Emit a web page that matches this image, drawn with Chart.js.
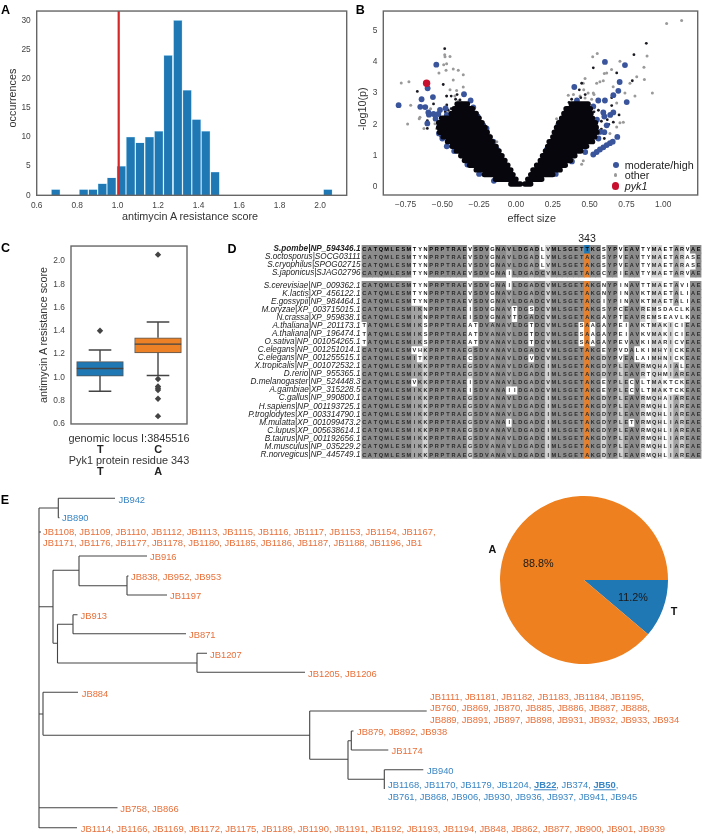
<!DOCTYPE html>
<html>
<head>
<meta charset="utf-8">
<title>Pyk1 antimycin A resistance</title>
<script src="https://cdn.jsdelivr.net/npm/chart.js@4"></script>
<style>
  html, body { margin: 0; background: #fff; }
  #page { position: relative; width: 709px; height: 835px; overflow: hidden; font-family: "Liberation Sans", Arial, sans-serif; }
  #page canvas { position: absolute; }
  .txt { position: absolute; white-space: nowrap; line-height: 1; }
  .txt b { text-decoration: underline; }
</style>
</head>
<body>
<div id="page"></div>
<script>
// Panel A: histogram
const binCenters = [0.694, 0.832, 0.878, 0.924, 0.97, 1.018, 1.064, 1.11, 1.157, 1.203, 1.249, 1.297, 1.343, 1.389, 1.435, 1.481, 2.038];
const binCounts = [1, 1, 1, 2, 3, 5, 10, 9, 10, 11, 24, 30, 18, 13, 11, 4, 1];
const wildtypeScore = 1.005;

// Panel B: volcano, [effect size, -log10(p)]
const moderatePoints = [[-.797,2.61],[-.541,3.9],[-.6,3.15],[-.564,2.87],[-.641,2.8],[-.616,2.55],[-.65,2.56],[-.595,2.38],[-.591,2.31],[-.546,2.18],[-.602,2.03],[-.516,2.46],[-.478,2.51],[-.353,2.96],[-.308,2.76],[-.523,1.71],[-.505,1.66],[-.56,2.33],[-.527,2.33],[-.29,2.54],[-.222,1.97],[-.2,1.87],[-.154,1.45],[-.12,1.04],[-.47,2.3],[-.5,1.55],[-.47,1.3],[-.42,1.15],[-.26,2.25],[-.25,2.05],[-.13,1.2],[-.09,.85],[-.05,.5],[-.33,.72],[-.25,.42],[-.15,.2],[-.52,1.95],
  [.604,3.99],[.74,3.89],[.704,3.35],[.396,3.19],[.695,3.07],[.661,2.93],[.752,2.71],[.414,2.76],[.559,2.76],[.604,2.76],[.525,2.57],[.593,2.38],[.661,2.38],[.688,1.6],[.616,1.97],[.57,1.76],[.288,2.0],[.254,1.45],[.435,1.25],[.525,1.04],[.548,1.12],[.57,1.2],[.593,1.27],[.616,1.34],[.638,1.4],[.657,1.45],[.6,2.25],[.64,2.3],[.55,2.15],[.56,1.55],[.33,1.9],[.19,.95],[.15,.6],[.27,.42],[.38,.82],[.47,1.12],[.6,1.75],[.21,1.2],[.31,2.15]];
const otherPoints = [[-.779,3.32],[-.727,3.36],[-.736,2.01],[-.715,2.61],[-.652,2.23],[-.657,2.18],[-.625,1.87],[-.58,2.5],[-.484,4.22],[-.482,4.15],[-.448,4.16],[-.491,3.9],[-.471,3.93],[-.523,3.64],[-.475,3.72],[-.426,3.76],[-.392,3.72],[-.358,3.58],[-.426,3.41],[-.358,3.19],[-.403,3.08],[-.448,3.1],[-.471,2.9],[-.415,2.9],[-.39,2.75],[-.37,2.7],[-.55,2.02],[-.539,1.87],[-.471,1.35],[-.358,.84],[-.26,.42],[-.177,1.66],[-.13,1.45],[-.1,.95],
  [1.023,5.21],[1.125,5.31],[.89,4.18],[.552,4.26],[.521,4.15],[.869,3.82],[.872,3.43],[.926,3.0],[.706,4.01],[.649,3.75],[.6,3.62],[.616,3.64],[.82,3.52],[.774,3.31],[.808,2.9],[.74,3.0],[.66,3.2],[.593,3.39],[.57,3.36],[.548,3.31],[.469,3.46],[.457,3.31],[.49,3.0],[.525,3.0],[.435,2.9],[.39,2.95],[.355,2.93],[.469,2.84],[.514,2.8],[.684,2.68],[.729,2.07],[.706,2.05],[.684,1.92],[.638,1.71],[.276,2.18],[.457,.84],[.446,.73],[.53,2.95],[.46,3.1]];
const lowImpactPoints = [[-.484,4.41],[-.494,3.27],[-.67,3.05],[-.602,1.87],[-.602,2.12],[-.471,2.9],[-.56,2.65],[-.44,2.9],[-.4,2.95],[-.5,2.2],[-.48,2.4],[-.44,2.5],[-.41,2.8],[-.47,2.62],[-.46,2.45],[-.38,2.78],
  [.885,4.58],[.801,4.22],[.525,3.8],[.684,3.64],[.79,3.39],[.446,3.31],[.378,2.8],[.65,2.85],[.661,2.07],[.56,2.45],[.58,2.1],[.62,2.15],[.53,2.4],[.47,2.95],[.43,3.1],[.55,1.95],[.6,1.55],[.58,1.85],[.44,2.85],[.36,2.7],[.65,2.6],[.7,2.3],[.63,2.0]];
// dense black body of the V, one row per p level: [-log10(p), left outer, left inner, right inner, right outer]
const coreBands = [[.1,-.035,.03,.06,.1],[.25,-.14,0,.08,.175],[.4,-.215,-.02,.1,.25],[.55,-.27,-.035,.115,.3],[.7,-.315,-.055,.14,.335],[.85,-.35,-.075,.165,.37],[1,-.375,-.095,.18,.4],[1.15,-.405,-.115,.2,.44],[1.3,-.435,-.135,.215,.48],[1.45,-.465,-.16,.225,.52],[1.6,-.495,-.175,.25,.535],[1.75,-.52,-.195,.26,.55],[1.9,-.525,-.21,.275,.545],[2.05,-.525,-.23,.29,.54],[2.2,-.505,-.25,.31,.52],[2.35,-.44,-.27,.325,.51],[2.5,-.42,-.295,.34,.505],[2.65,-.4,-.33,.375,.49]];
const pyk1Point = [[-.607,3.31]];

// Panel C: box plots, one entry per allele
const alleleT = { q1: 1.01, median: 1.075, q3: 1.135, low: 0.88, high: 1.235, fliers: [1.4] };
const alleleC = { q1: 1.21, median: 1.285, q3: 1.34, low: 1.015, high: 1.475, fliers: [2.055, 0.985, 0.92, 0.905, 0.89, 0.815, 0.665] };

// Panel D: alignment
const seqNames = ['S.pombe|NP_594346.1','S.octosporus|SOCG03111','S.cryophilus|SPOG02715','S.japonicus|SJAG02796','S.cerevisiae|NP_009362.1','K.lactis|XP_456122.1','E.gossypii|NP_984464.1','M.oryzae|XP_003715015.1','N.crassa|XP_959838.1','A.thaliana|NP_201173.1','A.thaliana|NP_196474.1','O.sativa|NP_001054265.1','C.elegans|NP_001251014.1','C.elegans|NP_001255515.1','X.tropicalis|NP_001072532.1','D.rerio|NP_955365.1','D.melanogaster|NP_524448.3','A.gambiae|XP_315228.5','C.gallus|NP_990800.1','H.sapiens|NP_001193725.1','P.troglodytes|XP_003314790.1','M.mulatta|XP_001099473.2','C.lupus|XP_005638614.1','B.taurus|NP_001192656.1','M.musculus|NP_035229.2','R.norvegicus|NP_445749.1'];
const seqs = [
  'CATQMLESMTYNPRPTRAEVSDVGNAVLDGADLVMLSGETTKGSYPVEAVTYMAETARVAE',
  'CATQMLESMTYNPRPTRAEVSDVGNAVLDGADLVMLSGETAKGSYPVEAVTYMAETARASE',
  'CATQMLESMTYNPRPTRAEVSDVGNAVLDGADLVMLSGETAKGSYPVEAVTYMAETARASE',
  'CATQMLESMTYNPRPTRAEVSDVGNAILDGADCVMLSGETAKGCYPIEAVTYMAETARVAE',
  'CATQMLESMTYNPRPTRAEVSDVGNAILDGADCVMLSGETAKGNYPINAVTTMAETAVIAE',
  'CATQMLESMTYNPRPTRAEVSDVGNAVLDGADCVMLSGETAKGNYPINAVKTMAETALIAE',
  'CATQMLESMTYNPRPTRAEVSDVGNAVLDGADCVMLSGETAKGIYPINAVKTMAETALIAE',
  'CATQMLESMIKNPRPTRAEISDVGNAVTDGSDCVMLSGETAKGSYPCEAVREMSDACLKAE',
  'CATQMLESMIKNPRPTRAEISDVGNAVTDGADCVMLSGETAKGAYPTEAVREMSEAVLKAE',
  'TATQMLESMIKSPRPTRAEATDVANAVLDGTDCVMLSGESAAGAYPEIAVKTMAKICIEAE',
  'TATQMLESMIKSPRPTRAEATDVANAVLDGTDCVMLSGESAAGAYPEIAVKVMAKICIEAE',
  'TATQMLESMIKSPRPTRAEATDVANAVLDGTDCVMLSGESAAGAYPEVAVKIMARICVEAE',
  'CATQMLESMVHKPRPTRAEGSDVANAVLDGADCVMLSGETAKGEYPVDALKIMHYICKEAE',
  'CATQMLESMITKPRPTRAECSDVANAVLDGVDCVMLSGETAKGDYPVEALAIMHNICKEAE',
  'CATQMLESMIKKPRPTRAEGSDVANAVLDGADCIMLSGETAKGDYPLEAVRMQHAIALEAE',
  'CATQMLESMIKKPRPTRAEGSDVANAVLDGADCIMLSGETAKGDYPLEAVRTQHMIAREAE',
  'CATQMLESMVKKPRPTRAEISDVANAVLDGADCVMLSGETAKGEYPLECVLTMAKTCKEAE',
  'CATQMLESMIKKPRPTRAEISDVANAIIDGADCVMLSGETAKGEYPLECVLTMAKTCKEAE',
  'CATQMLESMIKKPRPTRAEGSDVANAVLDGADCIMLSGETAKGDYPLEAVRMQHAIAREAE',
  'CATQMLESMIKKPRPTRAEGSDVANAVLDGADCIMLSGETAKGDYPLEAVRMQHLIAREAE',
  'CATQMLESMIKKPRPTRAEGSDVANAVLDGADCIMLSGETAKGDYPLEAVRMQHLIAREAE',
  'CATQMLESMIKKPRPTRAEGSDVANAILDGADCIMLSGETAKGDYPLETVRMQHLIAREAE',
  'CATQMLESMIKKPRPTRAEGSDVANAVLDGADCIMLSGETAKGDYPLEAVRMQHLIAREAE',
  'CATQMLESMIKKPRPTRAEGSDVANAVLDGADCIMLSGETAKGDYPLEAVRMQHLIAREAE',
  'CATQMLESMIKKPRPTRAEGSDVANAVLDGADCIMLSGETAKGDYPLEAVRMQHLIAREAE',
  'CATQMLESMIKKPRPTRAEGSDVANAVLDGADCIMLSGETAKGDYPLEAVRMQHLIAREAE'
];
const rowPositions = [0, 1, 2, 3, 4.5, 5.5, 6.5, 7.5, 8.5, 9.5, 10.5, 11.5, 12.5, 13.5, 14.5, 15.5, 16.5, 17.5, 18.5, 19.5, 20.5, 21.5, 22.5, 23.5, 24.5, 25.5];
const residueColumn = 40;

// Panel E: pie and tree
const pieLabels = ['T', 'A'];
const pieValues = [11.2, 88.8];
const treeBranches = [
  [39,508,39,828],[39,508,58.3,508],[58.3,498.3,58.3,517.7],[58.3,498.3,115,498.3],[58.3,517.7,59.5,517.7],
  [39,532,41,532],[39,606.7,53,606.7],[53,570.3,53,643.3],[53,570.3,79,570.3],[79,556,79,585.7],[79,556,147,556],
  [79,585.7,127,585.7],[127,576,127,595],[127,576,128.5,576],[127,595,167,595],
  [53,643.3,57.5,643.3],[57.5,624.3,57.5,663],[57.5,624.3,73,624.3],[73,614.7,73,633.7],[73,614.7,77.5,614.7],[73,633.7,186,633.7],
  [57.5,663,197,663],[197,653.3,197,672.3],[197,653.3,207,653.3],[197,672.3,305,672.3],
  [39,714,43,714],[43,692.3,43,735.3],[43,692.3,78,692.3],[43,735.3,309.7,735.3],[309.7,711,309.7,759.3],[309.7,711,426.7,711],
  [309.7,759.3,348,759.3],[348,740.7,348,779.3],[348,740.7,351.3,740.7],[351.3,731,351.3,750],[351.3,731,353.5,731],[351.3,750,388.3,750],
  [348,779.3,384.3,779.3],[384.3,769.7,384.3,789],[384.3,769.7,423.3,769.7],
  [39,807.7,117.5,807.7],[39,827.7,77,827.7]
];
const orangeLeaves = [
  [43,532,'JB1108, JB1109, JB1110, JB1112, JB1113, JB1115, JB1116, JB1117, JB1153, JB1154, JB1167,'],
  [43,543.3,'JB1171, JB1176, JB1177, JB1178, JB1180, JB1185, JB1186, JB1187, JB1188, JB1196, JB1'],
  [150,557.3,'JB916'],[131,577.3,'JB838, JB952, JB953'],[170,596,'JB1197'],[80.5,615.7,'JB913'],[189,635,'JB871'],
  [210,654.7,'JB1207'],[308,674,'JB1205, JB1206'],[81.7,693.7,'JB884'],
  [430,696.7,'JB1111, JB1181, JB1182, JB1183, JB1184, JB1195,'],[430,708,'JB760, JB869, JB870, JB885, JB886, JB887, JB888,'],
  [430,719.7,'JB889, JB891, JB897, JB898, JB931, JB932, JB933, JB934'],
  [357,732,'JB879, JB892, JB938'],[391.5,751,'JB1174'],[120.3,808.7,'JB758, JB866'],
  [80.7,828.5,'JB1114, JB1166, JB1169, JB1172, JB1175, JB1189, JB1190, JB1191, JB1192, JB1193, JB1194, JB848, JB862, JB877, JB900, JB901, JB939']
];
const blueLeaves = [
  [118.5,499.7,'JB942'],[62,518,'JB890'],[427,771,'JB940'],
  [388,785.3,'JB1168, JB1170, JB1179, JB1204, <b>JB22</b>, JB374, <b>JB50</b>,'],
  [388,797,'JB761, JB868, JB906, JB930, JB936, JB937, JB941, JB945']
];

const page = document.getElementById('page');
const INK = '#333';
const FRAME = '#666';
const tickFont = { family: '"Liberation Sans"', size: 8.4 };

function addText(x, y, html, style) {
  const d = document.createElement('div');
  d.className = 'txt';
  d.innerHTML = html;
  d.style.left = x + 'px';
  d.style.top = y + 'px';
  d.style.transform = 'translate(-50%,-50%)' + (style && style.rotate ? ' rotate(-90deg)' : '');
  d.style.fontSize = ((style && style.size) || 10.8) + 'px';
  d.style.color = (style && style.color) || INK;
  if (style && style.bold) d.style.fontWeight = 'bold';
  if (style && style.italic) d.style.fontStyle = 'italic';
  page.appendChild(d);
  return d;
}

function addLeaf(x, y, html, color) {
  const d = addText(x, y, html, { size: 9.4, color: color });
  d.style.transform = 'translateY(-50%)';
}

function addCanvas(x, y, w, h) {
  const c = document.createElement('canvas');
  c.width = w;
  c.height = h;
  c.style.left = x + 'px';
  c.style.top = y + 'px';
  c.style.width = w + 'px';
  c.style.height = h + 'px';
  page.appendChild(c);
  return c;
}

const framePlugin = {
  id: 'frame',
  afterDatasetsDraw(chart) {
    const a = chart.chartArea, ctx = chart.ctx;
    ctx.save();
    ctx.strokeStyle = FRAME;
    ctx.lineWidth = 1.4;
    ctx.strokeRect(a.left, a.top, a.right - a.left, a.bottom - a.top);
    ctx.restore();
  }
};

// fixed margins so the plot area lands where the reference has it
function fixedWidth(w) { return s => { s.width = w; }; }
function fixedHeight(h) { return s => { s.height = h; }; }

function baseOptions(padding) {
  return {
    responsive: false,
    animation: false,
    layout: { padding: padding },
    plugins: { legend: { display: false }, tooltip: { enabled: false } }
  };
}

function valueAxis(min, max, step, padding, afterFit, format) {
  const ticks = { stepSize: step, includeBounds: false, font: tickFont, color: '#444', padding: padding, maxRotation: 0, autoSkip: false };
  if (format) ticks.callback = format;
  return {
    type: 'linear', min: min, max: max, offset: false, afterFit: afterFit,
    grid: { display: false, drawTicks: false }, border: { display: false },
    ticks: ticks
  };
}

// --- A ---
new Chart(addCanvas(0, 0, 352, 212), {
  data: {
    datasets: [
      { type: 'line', data: [{ x: wildtypeScore, y: 0 }, { x: wildtypeScore, y: 31.6 }], borderColor: '#d62728', borderWidth: 2.2, pointRadius: 0, order: 0 },
      { type: 'bar', data: binCenters.map((b, i) => ({ x: b, y: binCounts[i] })), backgroundColor: '#1f77b4', borderColor: '#b5def5', borderWidth: 0.6, barThickness: 8.6, order: 1 }
    ]
  },
  options: Object.assign(baseOptions({ top: 9, right: 5.3, left: 0, bottom: 0 }), {
    scales: {
      x: valueAxis(0.6, 2.131, 0.2, 5, fixedHeight(212 - 195.3), v => v.toFixed(1)),
      y: valueAxis(0, 31.6, 5, 6, fixedWidth(36.7))
    }
  }),
  plugins: [framePlugin]
});
addText(12, 98, 'occurrences', { rotate: true });
addText(190, 216.3, 'antimycin A resistance score');

// --- B ---
const toXY = p => ({ x: p[0], y: p[1] });
const leftArm = [], rightArm = [];
coreBands.forEach(b => {
  leftArm.push({ x: b[1], y: b[0] }, { x: b[2], y: b[0] }, { x: b[2], y: null });
  rightArm.push({ x: b[3], y: b[0] }, { x: b[4], y: b[0] }, { x: b[4], y: null });
});
const bandStyle = { showLine: true, spanGaps: false, borderColor: '#06060c', borderWidth: 5.4, borderCapStyle: 'round', pointRadius: 0, order: 1 };
new Chart(addCanvas(340, 0, 369, 210), {
  type: 'scatter',
  data: {
    datasets: [
      { data: pyk1Point.map(toXY), backgroundColor: '#c8102e', pointRadius: 3.7, pointBorderWidth: 0, order: 0 },
      Object.assign({ data: leftArm }, bandStyle),
      Object.assign({ data: rightArm }, bandStyle),
      { data: moderatePoints.map(toXY), backgroundColor: '#3a559c', pointRadius: 2.9, pointBorderWidth: 0, order: 2 },
      { data: lowImpactPoints.map(toXY), backgroundColor: '#1a1a22', pointRadius: 1.4, pointBorderWidth: 0, order: 3 },
      { data: otherPoints.map(toXY), backgroundColor: '#9a9a9a', pointRadius: 1.5, pointBorderWidth: 0, order: 4 }
    ]
  },
  options: Object.assign(baseOptions({ top: 5.7, right: 11.3, left: 0, bottom: 0 }), {
    scales: {
      x: valueAxis(-0.901, 1.234, 0.25, 5, fixedHeight(15), v => v.toFixed(2).replace('-', '\u2212')),
      y: valueAxis(-0.25, 5.61, 1, 6, fixedWidth(43.3))
    }
  }),
  plugins: [framePlugin]
});
addText(361.7, 109, '-log10(p)', { rotate: true });
addText(531.7, 217.7, 'effect size');

// legend of B sits inside the plot, as in the reference
[['#3a559c', 3, 'moderate/high', 164.7, false], ['#9a9a9a', 1.8, 'other', 175.2, false], ['#c8102e', 3.6, 'pyk1', 186, true]].forEach(l => {
  const dot = document.createElement('div');
  dot.style.cssText = `position:absolute;left:${615.7 - l[1]}px;top:${l[3] - l[1]}px;width:${2 * l[1]}px;height:${2 * l[1]}px;border-radius:50%;background:${l[0]}`;
  page.appendChild(dot);
  const t = addText(624.7, l[3], l[2], { size: 10.8, italic: l[4], color: '#222' });
  t.style.transform = 'translateY(-50%)';
});

// --- C ---
const alleles = [alleleT, alleleC];
const whiskerPoints = [], medianPoints = [], capPoints = [], flierPoints = [];
alleles.forEach((a, i) => {
  whiskerPoints.push({ x: i, y: a.low }, { x: i, y: a.q1 }, { x: i, y: null }, { x: i, y: a.q3 }, { x: i, y: a.high }, { x: i, y: null });
  capPoints.push({ x: i - 0.195, y: a.low }, { x: i + 0.195, y: a.low }, { x: i, y: null }, { x: i - 0.195, y: a.high }, { x: i + 0.195, y: a.high }, { x: i, y: null });
  medianPoints.push({ x: i - 0.4, y: a.median }, { x: i + 0.4, y: a.median }, { x: i, y: null });
  a.fliers.forEach(f => flierPoints.push({ x: i, y: f }));
});
const lineStyle = { type: 'line', borderColor: '#444', borderWidth: 1.4, pointRadius: 0, spanGaps: false };
new Chart(addCanvas(0, 235, 192, 200), {
  data: {
    datasets: [
      Object.assign({ data: medianPoints, order: 0 }, lineStyle),
      Object.assign({ data: whiskerPoints, order: 1 }, lineStyle),
      Object.assign({ data: capPoints, order: 1 }, lineStyle),
      { type: 'scatter', data: flierPoints, pointStyle: 'rectRot', pointRadius: 3.2, backgroundColor: '#444', pointBorderWidth: 0, order: 1 },
      { type: 'bar', data: alleles.map((a, i) => ({ x: i, y: [a.q1, a.q3] })), backgroundColor: ['#1f77b4', '#ec8125'], borderColor: '#555', borderWidth: 1, borderSkipped: false, barThickness: 46.7, order: 2 }
    ]
  },
  options: Object.assign(baseOptions({ top: 8.3, right: 5, left: 0, bottom: 0 }), {
    scales: {
      x: { type: 'linear', min: -0.5, max: 1.5, offset: false, grid: { display: false, drawTicks: false }, border: { display: false }, ticks: { display: false }, afterFit: fixedHeight(5.7) },
      y: valueAxis(0.598, 2.129, 0.2, 6, fixedWidth(71), v => v.toFixed(1))
    }
  }),
  plugins: [framePlugin]
});
addText(43.3, 335, 'antimycin A resistance score', { rotate: true });
addText(129, 437.5, 'genomic locus I:3845516', { size: 10.9 });
addText(100.3, 448.5, 'T', { size: 10.9, bold: true, color: '#222' });
addText(158.3, 448.5, 'C', { size: 10.9, bold: true, color: '#222' });
addText(129, 459.5, 'Pyk1 protein residue 343', { size: 10.9 });
addText(100.3, 471, 'T', { size: 10.9, bold: true, color: '#222' });
addText(158.3, 471, 'A', { size: 10.9, bold: true, color: '#222' });

// --- D ---
function cellColor(row, col) {
  if (col === residueColumn) return row === 0 ? '#1f77b4' : '#e8802a';
  const letter = seqs[row][col];
  const share = seqs.filter(s => s[col] === letter).length / seqs.length;
  if (share > 0.85) return '#8c8c8c';
  if (share > 0.65) return '#a3a3a3';
  if (share > 0.38) return '#d2d2d2';
  return '#ffffff';
}
const columnLabels = seqs[0].split('').map((_, i) => i + 1);
const letterPlugin = {
  id: 'letters',
  afterDatasetsDraw(chart) {
    const ctx = chart.ctx, xs = chart.scales.x, ys = chart.scales.y;
    ctx.save();
    ctx.textAlign = 'center';
    ctx.textBaseline = 'middle';
    seqs.forEach((s, r) => {
      ctx.font = 'bold 5.6px "Liberation Sans"';
      ctx.fillStyle = r === 0 ? '#000' : '#2a2a2a';
      s.split('').forEach((ch, c) => ctx.fillText(ch, xs.getPixelForValue(c), ys.getPixelForValue(rowPositions[r]) + 0.3));
    });
    ctx.restore();
  }
};
new Chart(addCanvas(200, 235, 509, 230), {
  type: 'bar',
  data: {
    labels: columnLabels,
    datasets: seqs.map((s, r) => ({
      data: columnLabels.map(() => [rowPositions[r] - 0.5, rowPositions[r] + 0.5]),
      backgroundColor: columnLabels.map((_, c) => cellColor(r, c)),
      grouped: false, barPercentage: 1, categoryPercentage: 1, borderWidth: 0
    }))
  },
  options: Object.assign(baseOptions({ top: 10, right: 7.5, left: 0, bottom: 6.3 }), {
    scales: {
      x: { display: false },
      y: {
        type: 'linear', reverse: true, min: -0.5, max: 26,
        grid: { display: false, drawTicks: false }, border: { display: false },
        afterFit: fixedWidth(161.5),
        afterBuildTicks: s => { s.ticks = rowPositions.map(v => ({ value: v })); },
        ticks: {
          autoSkip: false, padding: 1, color: '#222',
          font: ctx => ({ family: '"Liberation Sans"', size: 8.2, style: 'italic', weight: ctx.index === 0 ? 'bold' : 'normal' }),
          callback: (v, i) => seqNames[i]
        }
      }
    }
  }),
  plugins: [letterPlugin]
});
addText(587, 237.5, '343', { size: 10.6, color: '#222' });

// --- E tree ---
const treePoints = [];
treeBranches.forEach(b => treePoints.push({ x: b[0], y: b[1] }, { x: b[2], y: b[3] }, { x: b[2], y: null }));
new Chart(addCanvas(0, 480, 709, 355), {
  type: 'scatter',
  data: { datasets: [{ data: treePoints, showLine: true, spanGaps: false, borderColor: '#444', borderWidth: 1.1, pointRadius: 0 }] },
  options: Object.assign(baseOptions(0), {
    scales: {
      x: { type: 'linear', min: 0, max: 709, display: false },
      y: { type: 'linear', min: 480, max: 835, reverse: true, display: false }
    }
  })
});
orangeLeaves.forEach(l => addLeaf(l[0], l[1], l[2], '#e8703a'));
blueLeaves.forEach(l => addLeaf(l[0], l[1], l[2], '#3a86c4'));

// --- E pie ---
new Chart(addCanvas(494, 490, 180, 180), {
  type: 'pie',
  data: { labels: pieLabels, datasets: [{ data: pieValues, backgroundColor: ['#1f77b4', '#ee801f'], borderWidth: 0 }] },
  options: Object.assign(baseOptions(6), { rotation: 90 })
});
addText(538.3, 563.3, pieValues[1] + '%', { size: 10.8, color: '#1a1a1a' });
addText(633, 597, pieValues[0] + '%', { size: 10.8, color: '#1a1a1a' });
addText(492.3, 549, pieLabels[1], { size: 10.8, bold: true, color: '#111' });
addText(674, 611, pieLabels[0], { size: 10.8, bold: true, color: '#111' });

// panel letters
[['A', 5.5, 10], ['B', 360.3, 10], ['C', 5.5, 248.3], ['D', 232, 248.7], ['E', 5, 500.3]].forEach(p => {
  addText(p[1], p[2], p[0], { size: 12.5, bold: true, color: '#000' });
});
</script>
</body>
</html>
